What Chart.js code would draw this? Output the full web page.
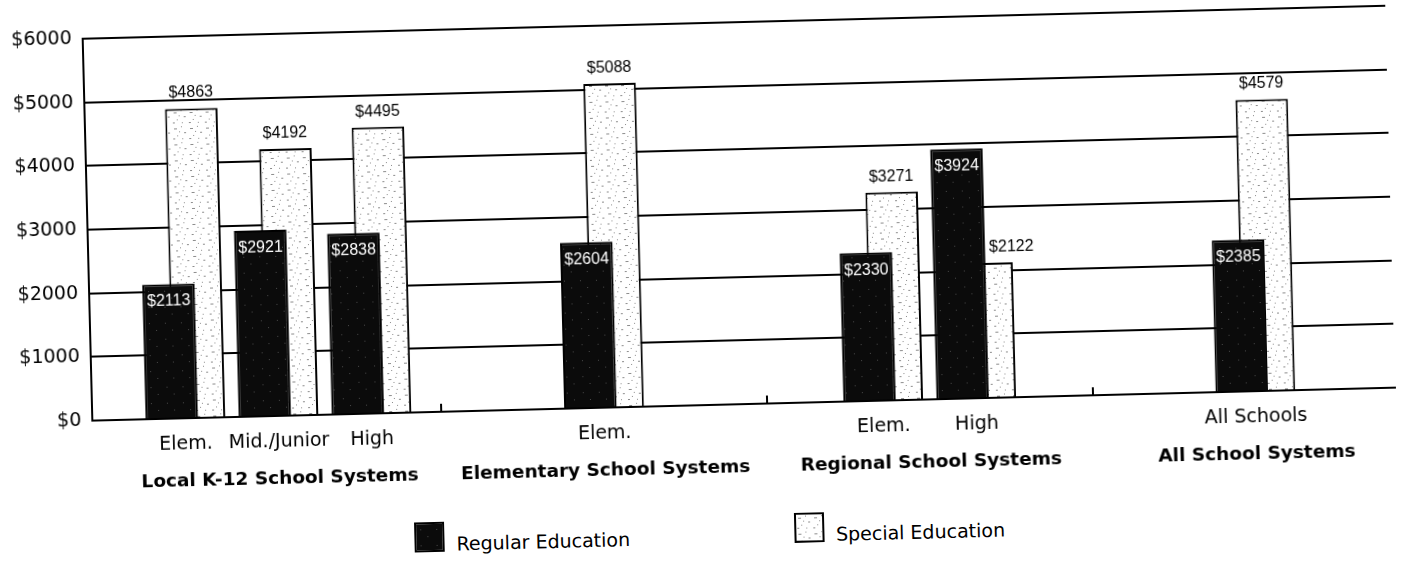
<!DOCTYPE html>
<html lang="en">
<head>
<meta charset="utf-8">
<title>Per Pupil Expenditures by School System</title>
<script src="https://cdn.jsdelivr.net/npm/chart.js@4.4.1/dist/chart.umd.min.js"></script>
<style>
  html, body { margin: 0; padding: 0; background: #fff; overflow: hidden; }
  /* the printed sheet sits a little crooked */
  .sheet {
    position: relative;
    width: 1415px;
    height: 561px;
    transform: rotate(-1.45deg);
    transform-origin: 50% 50%;
  }
  .plot { position: absolute; left: 0; top: 0; width: 1415px; height: 500px; }
  .key {
    position: absolute;
    left: 408px;
    top: 515px;
    display: flex;
    align-items: flex-end;
    gap: 164px;
    font-family: 'DejaVu Sans', sans-serif;
    font-size: 19px;
    color: #000;
  }
  .key-item { display: flex; align-items: flex-end; }
  .swatch {
    width: 30px; height: 30px;
    box-sizing: border-box;
    border: 2px solid #000;
  }
  .key-item span.txt { margin-left: 12px; line-height: 19px; position: relative; top: 2px; white-space: nowrap; }
</style>
</head>
<body>
<div class="sheet">
  <div class="plot"><canvas id="chart"></canvas></div>
  <div class="key" id="key"></div>
</div>

<script>
// x axis slots: school level under each pair of bars, blanks keep the groups apart
const subTicks = ['', '', 'Elem.', '', 'Mid./Junior', '', 'High', '', '', '', '',
  'Elem.', '', '', '', '', '', 'Elem.', '', 'High', '', '', '', '', '',
  'All Schools', '', '', ''];
// second row: type of school system
const systemTicks = ['', '', '', '', 'Local K-12 School Systems', '', '', '', '', '', '',
  'Elementary School Systems', '', '', '', '', '', '', 'Regional School Systems', '',
  '', '', '', '', '', 'All School Systems', '', '', ''];

const seriesNames = ['Regular Education', 'Special Education'];
const regular = [2113, 2921, 2838, 2604, 2330, 3924, 2385];
const special = [4863, 4192, 4495, 5088, 3271, 2122, 4579];
const yTicks = [0, 1000, 2000, 3000, 4000, 5000, 6000];

// spread the values onto the labelled slots
const filled = subTicks.flatMap((t, i) => (t ? [i] : []));
const spread = values => subTicks.map((t, i) => {
  const k = filled.indexOf(i);
  return k < 0 ? null : values[k];
});

const FONT = "'DejaVu Sans', sans-serif";

// small speckled tiles, like the screened fills of the print
function speckle(base, ink, marks) {
  const tile = document.createElement('canvas');
  tile.width = 16; tile.height = 16;
  const g = tile.getContext('2d');
  g.fillStyle = base;
  g.fillRect(0, 0, 16, 16);
  g.fillStyle = ink;
  marks.forEach(([x, y, w, h]) => g.fillRect(x, y, w, h));
  return tile;
}
const tiles = [
  speckle('#0b0b0b', '#4a4a4a', [[4, 5, 1, 1], [11, 12, 1, 1]]),
  speckle('#ffffff', '#8c8c8c', [[2, 3, 3, 1], [9, 1, 1, 1], [12, 7, 2, 1], [5, 10, 1, 1], [1, 13, 2, 1], [10, 13, 1, 1], [7, 6, 1, 1]])
];

const canvas = document.getElementById('chart');
const ctx = canvas.getContext('2d');
const fills = tiles.map(t => ctx.createPattern(t, 'repeat'));

// dollar amounts: white inside the dark bars, black above the light ones
const valueLabels = {
  id: 'valueLabels',
  afterDatasetsDraw(chart) {
    const c = chart.ctx;
    const front = chart.getDatasetMeta(0).data;
    c.save();
    c.font = "16px 'Liberation Sans', Arial, sans-serif";
    c.textBaseline = 'alphabetic';
    chart.data.datasets.forEach((ds, di) => {
      chart.getDatasetMeta(di).data.forEach((bar, i) => {
        const v = ds.data[i];
        if (v == null) return;
        const text = '$' + v;
        if (di === 0) {
          c.fillStyle = '#fff';
          c.textAlign = 'center';
          c.fillText(text, bar.x, bar.y + 22);
        } else {
          c.fillStyle = '#000';
          const other = front[i];
          if (chart.data.datasets[0].data[i] > v) {
            // the taller dark bar is in the way, so start right of it
            c.textAlign = 'left';
            c.fillText(text, other.x + other.width / 2 + 4, bar.y - 11);
          } else {
            c.textAlign = 'center';
            c.fillText(text, bar.x, bar.y - 11);
          }
        }
      });
    });
    c.restore();
  }
};

// short marks on the base line between the system groups
const groupBreaks = [8, 15, 22];

const chart = new Chart(ctx, {
  type: 'bar',
  data: {
    labels: subTicks,
    datasets: [
      {
        label: seriesNames[0],
        data: spread(regular),
        backgroundColor: fills[0],
        borderColor: '#000',
        borderWidth: 2
      },
      {
        label: seriesNames[1],
        data: spread(special),
        backgroundColor: fills[1],
        borderColor: '#000',
        borderWidth: 2
      }
    ]
  },
  options: {
    responsive: true,
    maintainAspectRatio: false,
    animation: false,
    events: [],
    // wide overlapping bars: the light one peeks out behind the dark one
    categoryPercentage: 1.17,
    barPercentage: 1.93,
    layout: { padding: { left: 0, right: 13, top: 23, bottom: 15 } },
    plugins: {
      legend: { display: false },
      tooltip: { enabled: false }
    },
    scales: {
      x: {
        offset: false,
        grid: {
          offset: true,
          drawOnChartArea: false,
          drawTicks: true,
          tickLength: -8,
          lineWidth: 2,
          color: c => (groupBreaks.includes(c.index) ? '#000' : 'rgba(0,0,0,0)')
        },
        border: { display: true, color: '#000', width: 2 },
        ticks: {
          autoSkip: false,
          maxRotation: 0,
          padding: 23,
          color: '#000',
          font: { family: FONT, size: 19 }
        },
        afterFit: s => { s.height = 40; }
      },
      systems: {
        type: 'category',
        position: 'bottom',
        weight: 1,
        labels: systemTicks,
        offset: false,
        grid: { display: false, drawTicks: false, offset: false },
        border: { display: false },
        ticks: {
          autoSkip: false,
          maxRotation: 0,
          padding: 12,
          color: '#000',
          font: { family: FONT, size: 18.5, weight: 'bold' }
        },
        afterFit: s => { s.height = 40; }
      },
      y: {
        min: yTicks[0],
        max: yTicks[yTicks.length - 1],
        afterBuildTicks: s => { s.ticks = yTicks.map(v => ({ value: v })); },
        grid: { color: '#000', lineWidth: 2, drawTicks: false },
        border: { display: true, color: '#000', width: 2 },
        ticks: {
          padding: 11,
          color: '#000',
          font: { family: FONT, size: 19 },
          callback: v => '$' + v
        },
        afterFit: s => { s.width = 89; }
      }
    }
  },
  plugins: [valueLabels]
});

// legend built from the datasets
const key = document.getElementById('key');
chart.data.datasets.forEach((ds, i) => {
  const item = document.createElement('div');
  item.className = 'key-item';
  const sw = document.createElement('span');
  sw.className = 'swatch';
  sw.style.backgroundImage = 'url(' + tiles[i].toDataURL() + ')';
  const txt = document.createElement('span');
  txt.className = 'txt';
  txt.textContent = ds.label;
  item.appendChild(sw);
  item.appendChild(txt);
  key.appendChild(item);
});
</script>
</body>
</html>
